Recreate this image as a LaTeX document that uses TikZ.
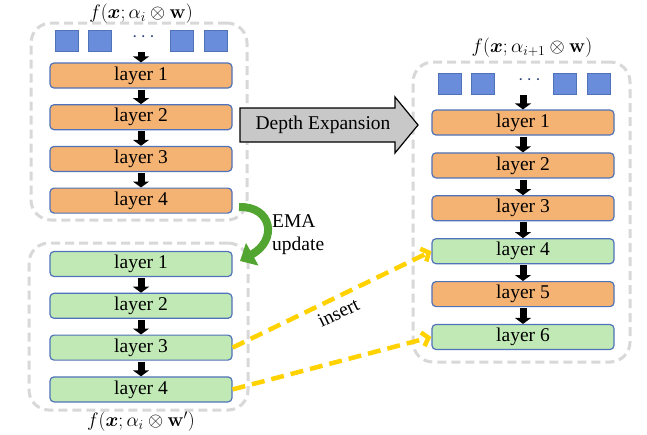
\RequirePackage{fix-cm}
\documentclass[tikz,border=0pt]{standalone}
\usepackage{amsmath,bm}
\usepackage[no-math]{fontspec}
\setmainfont{Liberation Serif}
\newfontfamily\labelfont{Liberation Serif}
\usetikzlibrary{arrows.meta}

\definecolor{layerOrange}{HTML}{F4B273}
\definecolor{layerGreen}{HTML}{C0E9B5}
\definecolor{edgeBlue}{HTML}{4F72B8}
\definecolor{tokenBlue}{HTML}{6A8DDB}
\definecolor{frameGray}{HTML}{D8D8D8}
\definecolor{insertYellow}{HTML}{FFD200}
\definecolor{emaGreen}{HTML}{52A530}
\definecolor{expandGray}{HTML}{C8C8C8}
\definecolor{dotBlue}{HTML}{2B3F7A}

\tikzset{
  txt/.style={font=\labelfont\fontsize{19.5}{22}\selectfont},
  layerbox/.style={txt, draw=edgeBlue, line width=1.2pt, rounded corners=4pt,
    minimum width=182pt, minimum height=25pt, inner sep=0pt},
  oldlayer/.style={layerbox, fill=layerOrange},
  newlayer/.style={layerbox, fill=layerGreen},
  token/.style={draw=edgeBlue, fill=tokenBlue, line width=0.9pt,
    minimum width=23pt, minimum height=21pt, inner sep=0pt},
  frame/.style={draw=frameGray, line width=3pt, dash pattern=on 9pt off 5pt,
    rounded corners=20pt, inner sep=0pt},
  flow/.style={line width=7pt, -{Triangle[length=6pt,width=16pt]},
    shorten <=1pt},
  insertline/.style={draw=insertYellow, line width=4.5pt,
    dash pattern=on 13pt off 7pt,
    -{Straight Barb[length=6pt,width=14pt]}},
  ema/.style={draw=emaGreen, line width=8pt,
    -{Triangle[length=14pt,width=25pt]}},
  expand/.style={draw=black, line width=1.2pt, fill=expandGray, line join=miter},
}

\begin{document}
\begin{tikzpicture}[x=1pt,y=-1pt]
\useasboundingbox (0,0) rectangle (647,434);

% dashed group frames
\node[frame, minimum width=216pt, minimum height=197pt] (frameA) at (139,121.5) {};
\node[frame, minimum width=219pt, minimum height=167pt] (frameB) at (138.5,326.5) {};
\node[frame, minimum width=217pt, minimum height=300pt] (frameC) at (521.5,212) {};

% captions
\node[txt] (capA) at (141,13.5) {$f(\bm{x};\alpha_i\otimes\mathbf{w})$};
\node[txt] (capB) at (141,422) {$f(\bm{x};\alpha_i\otimes\mathbf{w}')$};
\node[txt] (capC) at (532,48) {$f(\bm{x};\alpha_{i+1}\otimes\mathbf{w})$};

% input tokens, left
\node[token] (ta1) at (66.5,40.5) {};
\node[token] (ta2) at (99.5,40.5) {};
\node[token] (ta3) at (181.5,40.5) {};
\node[token] (ta4) at (215.5,40.5) {};
\node[txt, text=dotBlue] (dotsA) at (145,37) {$\cdots$};
\coordinate (inA) at (141,51);

% input tokens, right
\node[token] (tc1) at (449.5,83.5) {};
\node[token] (tc2) at (483,83.5) {};
\node[token] (tc3) at (564.5,83.5) {};
\node[token] (tc4) at (598.5,83.5) {};
\node[txt, text=dotBlue] (dotsC) at (531,80) {$\cdots$};
\coordinate (inC) at (523,94);

% current model
\node[oldlayer] (a1) at (141,75.5) {layer 1};
\node[oldlayer] (a2) at (141,117.2) {layer 2};
\node[oldlayer] (a3) at (141,158.9) {layer 3};
\node[oldlayer] (a4) at (141,200.6) {layer 4};

% EMA copy
\node[newlayer] (b1) at (141,264) {layer 1};
\node[newlayer] (b2) at (141,305.8) {layer 2};
\node[newlayer] (b3) at (141,347.6) {layer 3};
\node[newlayer] (b4) at (141,389.4) {layer 4};

% expanded model
\node[oldlayer] (c1) at (523,122.5) {layer 1};
\node[oldlayer] (c2) at (523,165.4) {layer 2};
\node[oldlayer] (c3) at (523,208.3) {layer 3};
\node[newlayer] (c4) at (523,251.2) {layer 4};
\node[oldlayer] (c5) at (523,294.1) {layer 5};
\node[newlayer] (c6) at (523,337) {layer 6};

% forward flow
\draw[flow] (inA) -- (a1.north);
\draw[flow] (a1) -- (a2);
\draw[flow] (a2) -- (a3);
\draw[flow] (a3) -- (a4);
\draw[flow] (b1) -- (b2);
\draw[flow] (b2) -- (b3);
\draw[flow] (b3) -- (b4);
\draw[flow] (inC) -- (c1.north);
\draw[flow] (c1) -- (c2);
\draw[flow] (c2) -- (c3);
\draw[flow] (c3) -- (c4);
\draw[flow] (c4) -- (c5);
\draw[flow] (c5) -- (c6);

% depth expansion block arrow
\draw[expand] (240,108) -- (395,108) -- (395,97) -- (418,125)
  -- (395,153) -- (395,142) -- (240,142) -- cycle;
\node[txt] (expandlabel) at (323,125) {Depth Expansion};

% EMA update
\coordinate (emaFrom) at (239,207);
\coordinate (emaTo) at (240,261);
\draw[ema] (emaFrom) .. controls (272,206) and (278,240) .. (emaTo);
\node[txt, align=left, anchor=west, inner sep=0pt] (emalabel) at (272,235)
  {EMA\\[1pt]update};

% inserted layers
\draw[insertline] (b3.east) -- node[txt, pos=0.5, below=6pt, sloped, inner sep=0pt] (insertlabel) {insert} (c4.west);
\draw[insertline] (b4.east) -- (c6.west);
\end{tikzpicture}
\end{document}
